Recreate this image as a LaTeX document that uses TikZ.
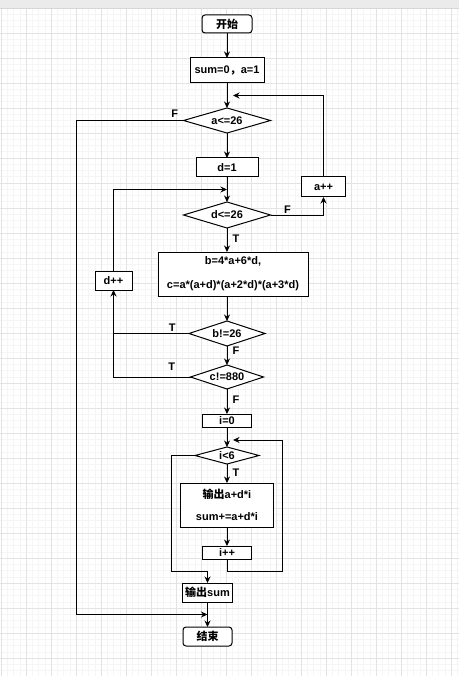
\documentclass[tikz,border=0pt]{standalone}
\usepackage{fontspec}
\setmainfont{Liberation Sans}
\newfontfamily\zhfont{Noto Sans CJK SC}
\newcommand{\zh}[1]{{\zhfont #1}}
\usetikzlibrary{shapes.geometric, arrows.meta, positioning, calc}

\begin{document}
\begin{tikzpicture}[
        x=1pt, y=-1pt,
        font=\bfseries\fontsize{11}{13}\selectfont,
        >={Stealth[length=6.5pt, width=6pt]},
        line width=1pt,
        box/.style={
            draw=black,
            fill=white,
            line width=1pt,
            align=center,
            inner sep=0pt,
            outer sep=0pt
        },
        term/.style={box, rounded corners=3pt},
        decision/.style={
            diamond,
            draw=black,
            fill=white,
            line width=1pt,
            inner sep=0pt,
            outer sep=0pt,
            aspect=3.4
        },
        lbl/.style={inner sep=1pt}
    ]

        % canvas and grid
        \useasboundingbox (0,0) rectangle (459,676);
        \foreach \g in {1,7.25,...,459} \draw[black!4, line width=0.5pt] (\g,8) -- (\g,676);
        \foreach \g in {8,14.25,...,676} \draw[black!4, line width=0.5pt] (0,\g) -- (459,\g);
        \foreach \g in {1,26,...,459} \draw[black!11, line width=0.6pt] (\g,8) -- (\g,676);
        \foreach \g in {8,33,...,676} \draw[black!11, line width=0.6pt] (0,\g) -- (459,\g);
        \fill[black!8] (0,0) rectangle (459,8);
        \draw[black!16, line width=0.6pt] (0,8) -- (459,8);

        \node[term, minimum width=50pt, minimum height=18pt] (start) at (227,24) {\zh{开始}};
        \node[box, below=25pt of start, minimum width=74pt, minimum height=25pt] (sum) {sum=0\zh{，}a=1};
        \node[decision, below=25pt of sum, minimum width=87pt, minimum height=25pt] (ale) {a<=26};
        \node[box, below=25pt of ale, minimum width=62pt, minimum height=19pt] (dinit) {d=1};
        \node[decision, below=25pt of dinit, minimum width=87pt, minimum height=26pt] (dle) {d<=26};
        \node[box, below=24pt of dle, xshift=6pt, minimum width=150pt, minimum height=44pt] (bc) {b=4*a+6*d,\\[11pt]c=a*(a+d)*(a+2*d)*(a+3*d)};
        \node[decision, below=25pt of bc, xshift=-6pt, minimum width=76pt, minimum height=25pt] (bne) {b!=26};
        \node[decision, below=19pt of bne, minimum width=73pt, minimum height=24pt] (cne) {c!=880};
        \node[box, below=25pt of cne, minimum width=49pt, minimum height=13pt] (iinit) {i=0};
        \node[decision, below=20pt of iinit, minimum width=64pt, minimum height=17pt] (ilt) {i<6};
        \node[box, below=19pt of ilt, minimum width=93pt, minimum height=44pt] (out) {\zh{输出}a+d*i\\[9pt]sum+=a+d*i};
        \node[box, below=19pt of out, minimum width=49pt, minimum height=13pt] (iinc) {i++};
        \node[box, below=24pt of iinc, xshift=-19.5pt, minimum width=50pt, minimum height=19pt] (outsum) {\zh{输出}sum};
        \node[term, below=25pt of outsum, minimum width=49pt, minimum height=19pt] (stop) {\zh{结束}};
        \node[box, right=31pt of dle, yshift=28pt, minimum width=44pt, minimum height=20pt] (ainc) {a++};
        \node[box, left=26pt of bc, yshift=-6.5pt, minimum width=37pt, minimum height=19pt] (dinc) {d++};

        \draw[->] (start) -- (sum);
        \draw[->] (sum) -- (ale);
        \draw[->] (ale) -- (dinit);
        \draw[->] (dinit) -- (dle);
        \draw[->] (dle) -- node[lbl, right=4pt, pos=0.46] {T} (dle.south |- bc.north);
        \draw[->] (bne.north |- bc.south) -- (bne);
        \draw[->] (bne) -- node[lbl, right=4pt, pos=0.26] {F} (cne);
        \draw[->] (cne) -- node[lbl, right=4pt, pos=0.44] {F} (iinit);
        \draw[->] (iinit) -- (ilt);
        \draw[->] (ilt) -- node[lbl, right=4pt, pos=0.47] {T} (out);
        \draw[->] (out) -- (iinc);
        \draw[->] (outsum) -- (stop);

        % loop over a
        \coordinate (aback) at ($(sum.south)!0.5!(ale.north)$);
        \draw[->, shorten >=6pt] (ainc.north) |- (aback);
        \draw[->] (dle.east) -| node[lbl, above, pos=0.16] {F} (ainc.south);
        \coordinate (stopin) at ($(outsum.south)!0.5!(stop.north)$);
        \draw[->] (ale.west) node[lbl, above left=1pt and 4pt] {F} -- ++(-107,0) |- (stopin);

        % loop over d
        \coordinate (dback) at ($(dinit.south)!0.5!(dle.north)$);
        \draw[->] (dinc.north) |- (dback);
        \draw[->] (bne.west) node[lbl, above left=1pt and 12pt] {T} -| (dinc.south);
        \draw (cne.west) node[lbl, above left=5pt and 14pt] {T} -| (dinc.south |- bne.west);

        % loop over i
        \coordinate (iback) at ([yshift=7pt]ilt.north);
        \draw[->, shorten >=6pt] (iinc.south) -- ++(0,12) -| ([xshift=55pt]iback) -- (iback);
        \draw[->] (ilt.west) -- ++(-24,0) |- ([yshift=12pt]outsum.north) -- (outsum.north);

    \end{tikzpicture}
\end{document}
